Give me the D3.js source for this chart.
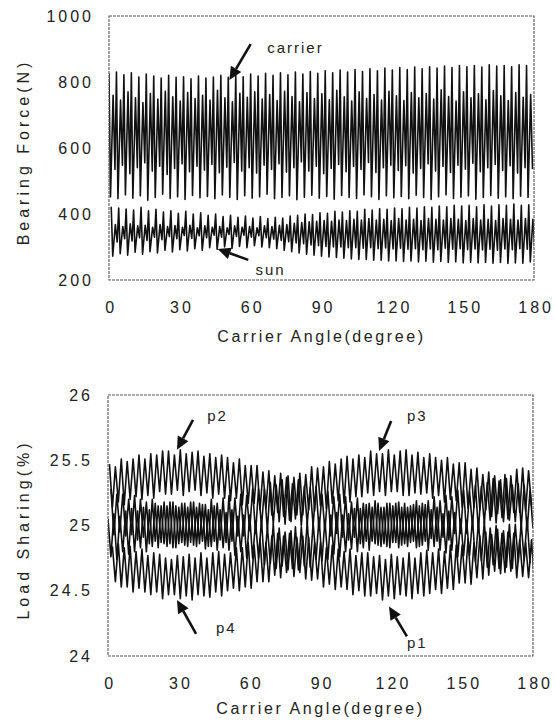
<!DOCTYPE html>
<html>
<head>
<meta charset="UTF-8">
<title>Bearing force and load sharing</title>
<script src="https://d3js.org/d3.v7.min.js"></script>
<style>
  body { margin: 0; background: #fff; }
  text { font-family: "Liberation Sans", Arial, sans-serif; fill: #222; }
  .tick-label { font-size: 16px; letter-spacing: 3px; }
  .axis-title { font-size: 16px; letter-spacing: 2.6px; }
  .y-title { font-size: 16px; letter-spacing: 4px; }
  .note { font-size: 15px; letter-spacing: 2px; }
  .frame { fill: none; stroke: #555; stroke-width: 1.1; stroke-dasharray: 3 1; }
  .trace { fill: none; stroke: #111; stroke-width: 1.6; stroke-linejoin: round; }
</style>
</head>
<body>
<svg id="fig" width="555" height="722"></svg>
<script>
// ---- top panel: bearing force (N), one entry per mesh cycle ----
const carrierPeak = [826,830,822,828,815,824,818,812,820,814,816,810,818,812,815,820,814,822,816,824,818,826,820,828,822,830,824,832,826,834,828,836,830,838,832,840,834,842,836,844,838,845,840,846,842,848,844,850,846,850,845,852,848,850,846,852,850];
const carrierValley = [452,446,458,448,455,442,450,460,447,452,444,456,449,453,446,458,450,444,455,448,452,460,446,450,455,443,451,457,448,453,445,456,450,447,458,452,444,455,449,453,446,457,450,444,452,458,447,451,455,445,450,456,448,452,446,454,450];
const carrierShoulder = [760,745,770,752,738,765,748,772,755,742,768,750,760,745,775,752,740,766,754,770,748,762,744,772,756,740,768,750,764,746,775,755,742,770,750,762,745,772,758,744,768,752,765,748,776,756,742,770,752,764,746,774,758,744,768,754,762];
const carrierDip = [535,548,522,540,555,530,545,520,538,552,528,545,533,550,525,542,556,530,540,524,548,535,552,527,540,558,530,545,522,538,550,528,544,535,556,526,540,548,532,546,524,538,552,530,544,526,548,536,554,528,540,550,532,546,524,540,536];

const sunPeak = [422,418,415,412,420,410,414,406,410,402,408,400,404,396,400,392,396,390,394,388,392,386,390,388,394,396,400,398,404,402,408,406,410,408,414,412,416,414,418,416,420,418,422,420,424,422,426,424,426,422,428,424,428,426,430,426,428];
const sunValley = [272,280,275,284,278,286,282,290,285,292,288,295,290,298,293,300,296,302,298,304,300,298,295,290,286,282,278,275,272,270,268,266,264,262,262,260,260,258,258,256,258,255,257,254,256,253,255,252,254,252,253,251,253,250,252,251,255];
const sunShoulder = [368,362,370,364,366,360,368,362,365,360,366,358,364,360,362,358,364,360,362,358,364,362,366,368,372,374,376,378,380,378,382,380,384,382,386,382,384,380,386,382,384,380,386,384,382,386,384,380,386,382,384,380,386,384,382,386,384];
const sunDip = [315,325,318,328,320,330,322,332,325,335,326,334,328,336,330,338,332,336,330,334,328,324,320,316,312,310,306,304,302,300,300,298,298,296,298,295,297,294,296,293,295,292,294,292,296,293,295,292,294,291,293,290,294,292,295,293,296];

// ---- bottom panel: load sharing (%), cycle maxima / minima ----
const p1Hi = [25.05,25.09,25.07,25.11,25.13,25.11,25.14,25.12,25.17,25.15, 25.15,25.18,25.14,25.17,25.18,25.14,25.16,25.12,25.15,25.12, 25.10,25.12,25.07,25.08,25.08,25.03,25.04,24.99,25.01,24.98, 24.95,24.96,24.91,24.92,24.91,24.87,24.87,24.83,24.85,24.82, 24.80,24.82,24.77,24.79,24.79,24.76,24.77,24.74,24.78,24.76, 24.75,24.79,24.75,24.79,24.81,24.79,24.82,24.80,24.85,24.85, 24.85,24.90,24.87,24.92,24.95,24.93,24.97,24.96,25.01,25.01, 25.02,25.06];
const p1Lo = [24.76,24.74,24.80,24.78,24.80,24.83,24.80,24.84,24.83,24.86, 24.86,24.83,24.87,24.84,24.85,24.86,24.82,24.84,24.81,24.83, 24.81,24.77,24.80,24.75,24.75,24.75,24.70,24.71,24.67,24.69, 24.66,24.61,24.64,24.59,24.58,24.59,24.53,24.55,24.51,24.53, 24.51,24.47,24.50,24.46,24.46,24.48,24.43,24.46,24.44,24.47, 24.46,24.44,24.48,24.46,24.48,24.51,24.48,24.52,24.51,24.56, 24.56,24.55,24.60,24.59,24.62,24.65,24.63,24.68,24.67,24.72, 24.73,24.71];
const p2Hi = [25.47,25.45,25.51,25.49,25.51,25.54,25.51,25.55,25.54,25.57, 25.57,25.54,25.58,25.55,25.56,25.57,25.53,25.55,25.52,25.54, 25.52,25.48,25.51,25.46,25.46,25.46,25.41,25.42,25.38,25.40, 25.37,25.32,25.35,25.30,25.29,25.30,25.24,25.26,25.22,25.24, 25.22,25.18,25.21,25.17,25.17,25.19,25.14,25.17,25.15,25.18, 25.17,25.15,25.19,25.17,25.19,25.22,25.19,25.23,25.22,25.27, 25.27,25.26,25.31,25.30,25.33,25.36,25.34,25.39,25.38,25.43, 25.44,25.42];
const p2Lo = [25.14,25.18,25.16,25.20,25.22,25.20,25.23,25.21,25.26,25.24, 25.24,25.27,25.23,25.26,25.27,25.23,25.25,25.21,25.24,25.21, 25.19,25.21,25.16,25.17,25.17,25.12,25.13,25.08,25.10,25.07, 25.04,25.05,25.00,25.01,25.00,24.96,24.96,24.92,24.94,24.91, 24.89,24.91,24.86,24.88,24.88,24.85,24.86,24.83,24.87,24.85, 24.84,24.88,24.84,24.88,24.90,24.88,24.91,24.89,24.94,24.94, 24.94,24.99,24.96,25.01,25.04,25.02,25.06,25.05,25.10,25.10, 25.11,25.15];
const p3Hi = [25.28,25.24,25.24,25.20,25.23,25.20,25.18,25.20,25.15,25.18, 25.18,25.15,25.17,25.14,25.18,25.17,25.16,25.20,25.17,25.21, 25.23,25.21,25.24,25.23,25.28,25.28,25.28,25.33,25.31,25.35, 25.38,25.37,25.40,25.39,25.45,25.44,25.45,25.49,25.47,25.51, 25.53,25.51,25.54,25.52,25.57,25.55,25.55,25.58,25.54,25.57, 25.58,25.54,25.56,25.52,25.55,25.52,25.50,25.52,25.47,25.48, 25.48,25.43,25.44,25.39,25.41,25.38,25.35,25.36,25.31,25.32, 25.31,25.27];
const p3Lo = [24.93,24.95,24.92,24.93,24.89,24.91,24.86,24.88,24.87,24.84, 24.83,24.86,24.85,24.87,24.84,24.88,24.84,24.88,24.89,24.87, 24.88,24.92,24.92,24.96,24.94,24.99,24.96,25.01,25.03,25.01, 25.03,25.08,25.08,25.12,25.11,25.15,25.13,25.17,25.19,25.17, 25.18,25.22,25.22,25.25,25.23,25.26,25.23,25.26,25.26,25.23, 25.23,25.25,25.24,25.25,25.21,25.23,25.18,25.20,25.19,25.14, 25.13,25.14,25.12,25.12,25.07,25.09,25.03,25.04,25.03,24.98, 24.96,24.98];
const p4Hi = [24.84,24.86,24.83,24.84,24.80,24.82,24.77,24.79,24.78,24.75, 24.74,24.77,24.76,24.78,24.75,24.79,24.75,24.79,24.80,24.78, 24.79,24.83,24.83,24.87,24.85,24.90,24.87,24.92,24.94,24.92, 24.94,24.99,24.99,25.03,25.02,25.06,25.04,25.08,25.10,25.08, 25.09,25.13,25.13,25.16,25.14,25.17,25.14,25.17,25.17,25.14, 25.14,25.16,25.15,25.16,25.12,25.14,25.09,25.11,25.10,25.05, 25.04,25.05,25.03,25.03,24.98,25.00,24.94,24.95,24.94,24.89, 24.87,24.89];
const p4Lo = [24.57,24.53,24.53,24.49,24.52,24.49,24.47,24.49,24.44,24.47, 24.47,24.44,24.46,24.43,24.47,24.46,24.45,24.49,24.46,24.50, 24.52,24.50,24.53,24.52,24.57,24.57,24.57,24.62,24.60,24.64, 24.67,24.66,24.69,24.68,24.74,24.73,24.74,24.78,24.76,24.80, 24.82,24.80,24.83,24.81,24.86,24.84,24.84,24.87,24.83,24.86, 24.87,24.83,24.85,24.81,24.84,24.81,24.79,24.81,24.76,24.77, 24.77,24.72,24.73,24.68,24.70,24.67,24.64,24.65,24.60,24.61, 24.60,24.56];

const angleTicks = [0, 30, 60, 90, 120, 150, 180];
const forceTicks = [200, 400, 600, 800, 1000];
const shareTicks = [24, 24.5, 25, 25.5, 26];

// annotation labels: [text, textAngle, textValue, arrowFromAngle, arrowFromValue, tipAngle, tipValue]
const forceNotes = [
  ["carrier", 67, 903, 60, 915, 51, 806],
  ["sun", 62, 230, 59, 261, 46, 294]
];
const shareNotes = [
  ["p2", 42, 25.84, 36, 25.81, 29.2, 25.58],
  ["p3", 126.6, 25.84, 119.9, 25.80, 114.8, 25.57],
  ["p4", 45.7, 24.22, 37.3, 24.17, 29.2, 24.43],
  ["p1", 126.6, 24.10, 126.6, 24.15, 119, 24.38]
];

const svg = d3.select("#fig");

// build a trace: each cycle visits the given extremes in order
function cycleTrace(lists, fracs, phase) {
  const n = d3.min(lists, l => l.length);
  const step = 180 / n;
  const pts = [];
  for (let i = 0; i < n; i++) {
    lists.forEach((l, k) => pts.push([(i + phase + fracs[k]) * step, l[i]]));
  }
  return pts;
}

function panel(opt) {
  const x = d3.scaleLinear().domain([0, 180]).range([opt.left, opt.right]);
  const y = d3.scaleLinear().domain(opt.yDomain).range([opt.bottom, opt.top]);
  const g = svg.append("g");

  g.append("clipPath").attr("id", opt.id + "-clip")
    .append("rect")
    .attr("x", opt.left).attr("y", opt.top)
    .attr("width", opt.right - opt.left).attr("height", opt.bottom - opt.top);

  const line = d3.line().x(d => x(d[0])).y(d => y(d[1]));
  g.append("g").attr("clip-path", `url(#${opt.id}-clip)`)
    .selectAll("path").data(opt.traces).join("path")
    .attr("class", "trace")
    .attr("d", line);

  g.append("rect").attr("class", "frame")
    .attr("x", opt.left).attr("y", opt.top)
    .attr("width", opt.right - opt.left).attr("height", opt.bottom - opt.top);

  // x axis labels
  const xa = g.append("g")
    .attr("transform", `translate(0,${opt.bottom})`)
    .call(d3.axisBottom(x).tickValues(angleTicks).tickSize(0).tickPadding(opt.xPad));
  xa.select(".domain").remove();
  xa.selectAll("text").attr("class", "tick-label").attr("fill", "#222").attr("dx", "0.1em");

  // y axis labels
  const ya = g.append("g")
    .attr("transform", `translate(${opt.left},0)`)
    .call(d3.axisLeft(y).tickValues(opt.yTicks).tickFormat(d3.format("~g")).tickSize(0).tickPadding(15));
  ya.select(".domain").remove();
  ya.selectAll("text").attr("class", "tick-label").attr("fill", "#222");

  g.append("text").attr("class", "axis-title")
    .attr("x", (opt.left + opt.right) / 2).attr("y", opt.bottom + opt.xTitle)
    .attr("text-anchor", "middle")
    .text("Carrier Angle(degree)");

  g.append("text").attr("class", "y-title")
    .attr("transform", `translate(29,${(opt.top + opt.bottom) / 2 + 4}) rotate(-90)`)
    .attr("text-anchor", "middle")
    .text(opt.yTitle);

  // annotations
  opt.notes.forEach(n => {
    const [label, ta, tv, fa, fv, ha, hv] = n;
    const x0 = x(fa), y0 = y(fv), x1 = x(ha), y1 = y(hv);
    const ang = Math.atan2(y1 - y0, x1 - x0);
    const len = 13, wid = 6;
    const bx = x1 - len * Math.cos(ang), by = y1 - len * Math.sin(ang);
    g.append("line")
      .attr("x1", x0).attr("y1", y0).attr("x2", bx).attr("y2", by)
      .attr("stroke", "#111").attr("stroke-width", 2.6);
    g.append("path")
      .attr("d", `M${x1},${y1}L${bx + wid * Math.sin(ang)},${by - wid * Math.cos(ang)}L${bx - wid * Math.sin(ang)},${by + wid * Math.cos(ang)}Z`)
      .attr("fill", "#111");
    g.append("text").attr("class", "note")
      .attr("x", x(ta)).attr("y", y(tv)).attr("dy", "0.35em")
      .text(label);
  });
}

panel({
  id: "force", left: 109, right: 534, top: 16, bottom: 280,
  yDomain: [200, 1000], yTicks: forceTicks, yTitle: "Bearing Force(N)",
  xPad: 22, xTitle: 62,
  traces: [
    cycleTrace([carrierPeak, carrierValley, carrierShoulder, carrierDip], [0, 0.2, 0.55, 0.8], 0),
    cycleTrace([sunPeak, sunValley, sunShoulder, sunDip], [0, 0.2, 0.55, 0.8], 0.3)
  ],
  notes: forceNotes
});

panel({
  id: "share", left: 108, right: 533, top: 395, bottom: 656,
  yDomain: [24, 26], yTicks: shareTicks, yTitle: "Load Sharing(%)",
  xPad: 22, xTitle: 58,
  traces: [
    cycleTrace([p1Hi, p1Lo], [0, 0.5], 0),
    cycleTrace([p2Hi, p2Lo], [0, 0.5], 0.25),
    cycleTrace([p3Hi, p3Lo], [0, 0.5], 0.5),
    cycleTrace([p4Hi, p4Lo], [0, 0.5], 0.75)
  ],
  notes: shareNotes
});
</script>
</body>
</html>
